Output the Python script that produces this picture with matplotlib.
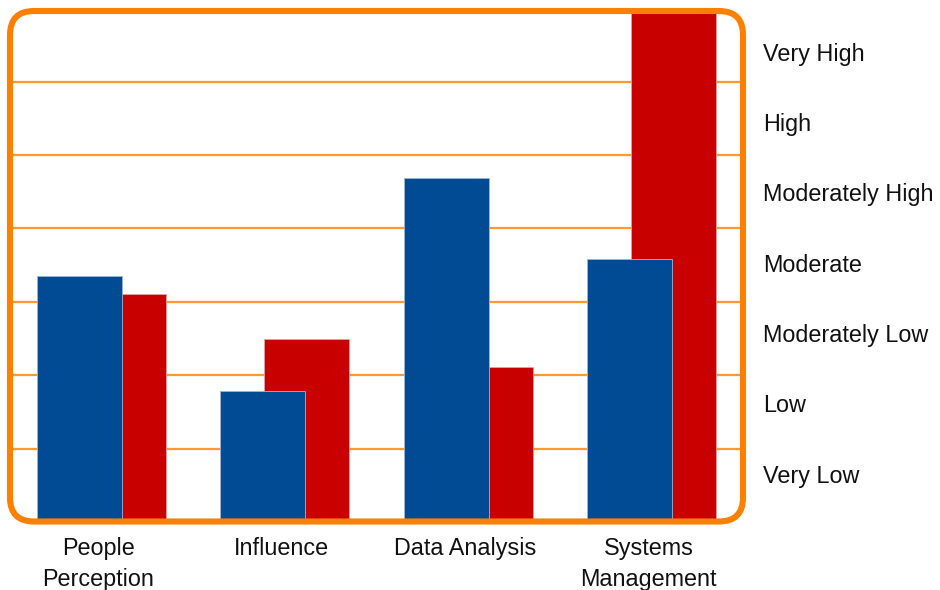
import matplotlib
matplotlib.use("Agg")
import matplotlib.pyplot as plt
from matplotlib.patches import FancyBboxPatch
from matplotlib.transforms import blended_transform_factory
import numpy as np

plt.rcParams['font.family'] = ['Liberation Sans', 'DejaVu Sans']

categories = ["People\nPerception", "Influence", "Data Analysis", "Systems\nManagement"]
series_blue = [3.35, 1.78, 4.69, 3.58]
series_red = [3.11, 2.49, 2.11, 7.0]
levels = ["Very High", "High", "Moderately High", "Moderate",
          "Moderately Low", "Low", "Very Low"]

W, H = 940, 590
fig = plt.figure(figsize=(W / 100, H / 100), dpi=100)

# plot area in pixel units (top-left origin)
left_px, right_px = 10, 743
top_px, bottom_px = 11, 522
unit_px = 73.4       # pixels per rating step
group_px = 183.3     # pixels between category centres
first_px = 97.5      # centre of first category

ax = fig.add_axes([left_px / W, 1 - bottom_px / H,
                   (right_px - left_px) / W, (bottom_px - top_px) / H])
ax.set_xlim((left_px - first_px) / group_px, (right_px - first_px) / group_px)
ax.set_ylim(0, (bottom_px - top_px) / unit_px)
ax.axis('off')

for k in range(1, 7):
    ax.axhline(k, color='#ff9a33', lw=1.6, zorder=1)

x = np.arange(len(categories))
width = 85 / group_px
off_red = 26 / group_px
off_blue = -18 / group_px
ax.bar(x + off_red, series_red, width, color='#c80000',
       edgecolor='#e8a0a0', linewidth=0.6, zorder=2)
ax.bar(x + off_blue, series_blue, width, color='#004b93',
       edgecolor='#9ab8d8', linewidth=0.6, zorder=3)

# rounded orange frame
frame = FancyBboxPatch((left_px, H - 521.5), right_px - left_px, 521.5 - top_px,
                       boxstyle="round,pad=0,rounding_size=24",
                       transform=None, facecolor='none',
                       edgecolor='#ff8000', linewidth=4.4, zorder=10)
fig.patches.append(frame)

# category labels below the frame
label_tf = blended_transform_factory(ax.transData, fig.transFigure)
for xi, name in zip(x, categories):
    ax.text(xi + 1 / group_px, 1 - 537 / H, name, transform=label_tf,
            ha='center', va='top', fontsize=16.8, color='#111111',
            linespacing=1.42)

# rating scale on the right
ys = np.linspace(54, 476, len(levels))
for y, lab in zip(ys, levels):
    fig.text(763 / W, 1 - y / H, lab, ha='left', va='center',
             fontsize=16.8, color='#111111')

fig.savefig("out.png", dpi=100)
